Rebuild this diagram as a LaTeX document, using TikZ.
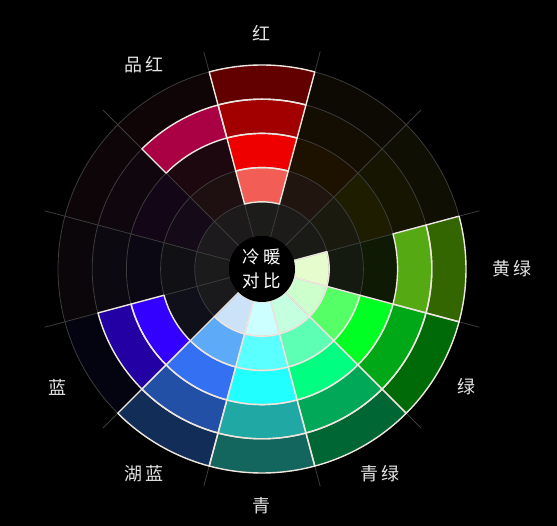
\documentclass[tikz,border=0pt]{standalone}
\usepackage{fontspec}
\usepackage{xcolor}
\usepackage{tikz}
\newfontfamily\cjk[LetterSpace=18]{Noto Sans CJK SC}
\definecolor{rejilla}{HTML}{3C3C3C}
\definecolor{borde}{HTML}{EDE6DF}
\definecolor{etiquetaGris}{HTML}{E4E4E4}

% trozo de anillo: [estilo]{angulo central}{anillo 1..5}
\newcommand{\trozo}[3][]{%
  \pgfmathsetmacro{\rin}{33+(#3-1)*34.2}%
  \pgfmathsetmacro{\rout}{33+#3*34.2}%
  \path[#1] (#2-15:\rin) arc[start angle=#2-15, end angle=#2+15, radius=\rin]
    -- (#2+15:\rout) arc[start angle=#2+15, end angle=#2-15, radius=\rout] -- cycle;%
}

\begin{document}
\begin{tikzpicture}[
  x=1pt, y=1pt,
  rejillaLinea/.style={draw=rejilla, line width=0.8pt},
  marco/.style={draw=borde, line width=1.4pt, line join=round},
  etiqueta/.style={font=\cjk\fontsize{18}{20}\selectfont, text=etiquetaGris}
]
  % --- Fondo negro ---
  \fill[black] (-262,-257) rectangle (295,269);

  % --- Celdas (12 sectores x 5 anillos) ---
  \foreach \ang/\ca/\cb/\cc/\cd/\ce in {
      90/1C1C1A/F25E55/EE0000/A20000/620000,
      60/1C1B19/211510/1D1200/130D02/0D0A03,
      30/1A1B17/1A1A0E/1F1D00/151502/0F0F03,
      0/E6FCCC/141A10/0F1A04/55AA14/336600,
      -30/CCFFCC/55FF66/00FF22/00A818/006A08,
      -60/C4FFE0/5CFFB4/00FF80/00A858/006633,
      -90/CCFFFF/5AFFFF/22FFFF/20A8A4/12665E,
      -120/CCE2F8/5CAAF8/3370F2/2250A6/122E58,
      -150/1A1A1C/10101A/3300FF/2200A4/040410,
      180/1B1B1B/101015/0B0814/0C0A10/0A0609,
      150/1C1A1C/150A18/130617/10060E/0D0508,
      120/1C1A1A/1E1010/1D0810/AA0044/0F0507}{
    \foreach \k/\col in {1/\ca, 2/\cb, 3/\cc, 4/\cd, 5/\ce}{
      \definecolor{celda}{HTML}{\col}
      \trozo[fill=celda]{\ang}{\k}
    }
  }

  % --- Rejilla tenue ---
  \foreach \r in {67.2, 101.4, 135.6, 169.8, 204}
    \draw[rejillaLinea] (0,0) circle[radius=\r];
  \foreach \a in {15, 45, ..., 345}
    \draw[rejillaLinea] (\a:33) -- (\a:225);

  % --- Bordes blancos ---
  \foreach \ang/\k in {90/2, 90/3, 90/4, 90/5, 120/4, 0/1, 0/4, 0/5, -150/3, -150/4}
    \trozo[marco]{\ang}{\k};
  \foreach \ang in {-30, -60, -90, -120}
    \foreach \k in {1,...,5}
      \trozo[marco]{\ang}{\k};

  % --- Centro ---
  \node[circle, fill=black, minimum size=66pt, inner sep=0pt, align=center,
        text=white, font=\cjk\fontsize{17.5}{24}\selectfont] (centro) at (0,0) {冷暖\\对比};

  % --- Etiquetas ---
  \node[etiqueta] (rojo)          at (90:236)  {红};
  \node[etiqueta] (magenta)       at (120:236) {品红};
  \node[etiqueta] (amarilloVerde) at (0:250)   {黄绿};
  \node[etiqueta] (verde)         at (-30:236) {绿};
  \node[etiqueta] (cianVerde)     at (-60:236) {青绿};
  \node[etiqueta] (cian)          at (-90:237) {青};
  \node[etiqueta] (azulLago)      at (-120:236) {湖蓝};
  \node[etiqueta] (azul)          at (-150:236) {蓝};
\end{tikzpicture}
\end{document}
